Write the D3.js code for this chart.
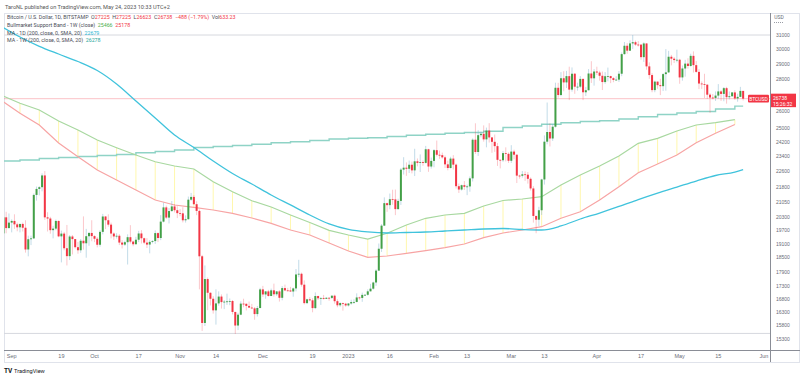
<!DOCTYPE html>
<html>
<head>
<meta charset="utf-8">
<script src="https://cdn.jsdelivr.net/npm/d3@7"></script>
<style>
  html, body { margin: 0; padding: 0; background: #fff; }
  svg { display: block; font-family: Roboto, "Liberation Sans", sans-serif; }
</style>
</head>
<body>
<svg id="chart" width="800" height="378"></svg>
<script>
// ---- data (BTCUSD daily, Bitstamp) ----
const firstDay = "2022-08-28";
// [open, high, low, close], one row per day from firstDay
const ohlc = [
    [20040,20140,19530,19555],[19555,20380,19555,20297],[20297,20560,19560,19796],[19796,20480,19780,20049],
    // Sep
    [20049,20200,19600,20127],[20127,20440,19760,19969],[19969,20050,19650,19832],[19832,20000,19600,19987],
    [19987,20050,19640,19812],[19812,20160,18700,18837],[18837,19450,18540,19290],[19290,19450,19030,19329],
    [19329,21450,19300,21381],[21381,21800,21100,21680],[21680,21820,21360,21769],[21769,22480,21560,22371],
    [22371,22600,20180,20297],[20297,20540,19640,20241],[20241,20320,19540,19701],[19701,19900,19330,19772],
    [19772,20190,19700,20127],[20127,20150,19380,19419],[19419,19680,18280,19544],[19544,19620,18800,18891],
    [18891,19940,18150,18547],[18547,19480,18380,19413],[19413,19480,18620,19297],[19297,19300,18880,18937],
    [18937,19170,18650,18802],[18802,19300,18690,19222],[19222,20340,18830,19110],[19110,19760,18480,19426],
    [19426,19620,19000,19573],[19573,20160,19200,19431],
    // Oct
    [19431,19470,19160,19312],[19312,19390,18930,19044],[19044,19700,18960,19623],[19623,20460,19510,20336],
    [20336,20360,19750,20160],[20160,20440,19860,19955],[19955,20050,19330,19546],[19546,19600,19260,19416],
    [19416,19560,19320,19446],[19446,19520,19030,19141],[19141,19250,18880,19051],[19051,19220,18990,19157],
    [19157,19510,18190,19382],[19382,19930,19100,19185],[19185,19220,18980,19067],[19067,19400,19060,19268],
    [19268,19670,19160,19550],[19550,19700,19100,19334],[19334,19360,19070,19139],[19139,19340,18900,19053],
    [19053,19250,18670,19172],[19172,19250,19110,19208],[19208,19690,19080,19567],[19567,19600,19160,19345],
    [19345,20400,19250,20095],[20095,21000,20060,20771],[20771,20860,20220,20285],[20285,20740,20010,20595],
    [20595,21080,20560,20818],[20818,20930,20530,20635],[20635,20830,20260,20495],
    // Nov
    [20495,20690,20350,20485],[20485,20780,20060,20159],[20159,20390,20050,20209],[20209,21300,20190,21147],
    [21147,21480,21090,21282],[21282,21370,20900,20926],[20926,21070,20400,20602],[20602,20670,17170,18541],
    [18541,18600,15590,15880],[15880,18150,15770,17586],[17586,17650,16360,17034],[17034,17050,16540,16799],
    [16799,16900,16230,16353],[16353,17170,15820,16619],[16619,17090,16530,16885],[16885,16970,16420,16669],
    [16669,16750,16400,16687],[16687,17000,16560,16698],[16698,16810,16550,16712],[16712,16750,16200,16292],
    [16292,16300,15480,15787],[15787,16260,15620,16189],[16189,16700,16170,16610],[16610,16800,16470,16604],
    [16604,16610,16350,16522],[16522,16690,16440,16458],[16458,16600,16400,16428],[16428,16480,16000,16212],
    [16212,16520,16120,16442],[16442,17230,16430,17168],
    // Dec
    [17168,17310,16870,16968],[16968,17100,16800,17089],[17089,17150,16880,16908],[16908,17200,16900,17131],
    [17131,17400,16880,16975],[16975,17100,16910,17089],[17089,17140,16690,16837],[16837,17300,16740,17221],
    [17221,17360,17100,17129],[17129,17230,17090,17127],[17127,17270,17070,17085],[17085,17240,16880,17208],
    [17208,18000,17090,17774],[17774,18390,17660,17803],[17803,17850,17280,17357],[17357,17530,16580,16630],
    [16630,16800,16590,16777],[16777,16860,16700,16738],[16738,16820,16280,16439],[16439,17050,16400,16906],
    [16906,16920,16750,16818],[16818,16860,16560,16830],[16830,16950,16770,16796],[16796,16860,16790,16837],
    [16837,16860,16720,16832],[16832,16930,16790,16919],[16919,16960,16610,16705],[16705,16780,16470,16547],
    [16547,16660,16490,16633],[16633,16650,16340,16607],[16607,16640,16490,16540],
    // Jan
    [16540,16630,16500,16616],[16616,16760,16570,16672],[16672,16780,16600,16675],[16675,17010,16660,16850],
    [16850,16880,16760,16831],[16831,17040,16680,16951],[16951,16980,16910,16955],[16955,17170,16920,17091],
    [17091,17390,17090,17197],[17197,17480,17160,17446],[17446,17990,17310,17934],[17934,19100,17920,18869],
    [18869,19980,18730,19909],[19909,21260,19890,20976],[20976,21000,20560,20880],[20880,21450,20680,21170],
    [21170,21640,20900,21161],[21161,21650,20400,20688],[20688,21190,20660,21086],[21086,22760,20890,22676],
    [22676,23340,22420,22777],[22777,23060,22350,22720],[22720,23160,22500,22934],[22934,23100,22480,22636],
    [22636,23800,22340,23117],[23117,23270,22850,23032],[23032,23490,22550,23078],[23078,23170,22880,23031],
    [23031,23960,23000,23774],[23774,23800,22560,22840],[22840,23320,22730,23139],
    // Feb
    [23139,23780,22800,23723],[23723,24260,23380,23471],[23471,23700,23250,23449],[23449,23590,23260,23331],
    [23331,23430,22760,22955],[22955,23150,22640,22760],[22760,23360,22740,23264],[23264,23450,22680,22939],
    [22939,23000,21700,21819],[21819,21950,21480,21651],[21651,21900,21600,21870],[21870,22080,21630,21788],
    [21788,21900,21370,21808],[21808,22320,21540,22220],[22220,24380,22060,24307],[24307,25250,23520,23623],
    [23623,24850,23410,24565],[24565,24770,24440,24641],[24641,25130,24200,24327],[24327,25000,23880,24829],
    [24829,25260,24150,24436],[24436,24460,23580,24188],[24188,24600,23630,23947],[23947,24120,22870,23198],
    [23198,23210,22740,23175],[23175,23680,23090,23561],[23561,23880,23110,23522],[23522,23600,23030,23147],
    // Mar
    [23147,24000,23030,23646],[23646,23750,23230,23475],[23475,23480,21980,22362],[22362,22410,22200,22354],
    [22354,22600,22260,22430],[22430,22580,22090,22410],[22410,22550,21950,22197],[22197,22270,21600,21705],
    [21705,21820,20050,20363],[20363,20370,19560,20187],[20187,20800,19890,20633],[20633,22200,20410,22163],
    [22163,24550,21900,24197],[24197,26500,24050,24746],[24746,25250,23930,24376],[24376,25210,24240,25052],
    [25052,27750,25000,27423],[27423,27740,26800,26966],[26966,28440,26890,28038],[28038,28500,27200,27767],
    [27767,28520,27410,28175],[28175,28800,26650,27307],[27307,28750,27180,28333],[28333,28380,27040,27493],
    [27493,27750,27240,27494],[27494,28180,27400,27994],[27994,28020,26650,27139],[27139,27480,26900,27268],
    [27268,28640,27250,28348],[28348,29170,27730,28033],[28033,28640,27560,28478],
    // Apr
    [28478,28800,28250,28411],[28411,28530,27880,28199],[28199,28480,27280,27790],[27790,28440,27680,28168],
    [28168,28740,27840,28177],[28177,28200,27720,28044],[28044,28110,27780,27925],[27925,28170,27880,27947],
    [27947,28510,27800,28333],[28333,29770,28170,29653],[29653,30500,29620,30235],[30235,30420,29680,29892],
    [29892,30620,29870,30400],[30400,31000,30010,30485],[30485,30600,30230,30318],[30318,30560,30180,30315],
    [30315,30330,29270,29445],[29445,30480,29120,30397],[30397,30410,28600,28822],[28822,29090,28000,28245],
    [28245,28370,27140,27276],[27276,27880,27140,27818],[27818,27820,27360,27591],[27591,28000,26960,27525],
    [27525,28370,27220,28307],[28307,30000,27240,28422],[28422,29880,28380,29473],[29473,29600,28890,29340],
    [29340,29450,29050,29248],[29248,29960,29090,29268],
    // May
    [29268,29330,27680,28091],[28091,28880,27880,28680],[28680,29260,28140,29006],[29006,29370,28670,28847],
    [28847,29680,28800,29534],[29534,29840,28410,28904],[28904,29180,28400,28454],[28454,28640,27340,27695],
    [27695,27830,27350,27654],[27654,28330,26780,27621],[27621,27640,26720,26987],[26987,27080,25870,26808],
    [26808,27030,26700,26784],[26784,27190,26600,26930],[26930,27660,26730,27192],[27192,27270,26600,27036],
    [27036,27470,26580,27398],[27398,27480,26430,26832],[26832,27190,26690,26890],[26890,27150,26850,27129],
    [27129,27270,26660,26753],[26753,27050,26550,26851],[26851,27480,26830,27225],[27225,27225,26623,26738]
];

// weekly indicator points (week closes, Sundays)
const weeks = ["2022-08-28","2022-09-04","2022-09-11","2022-09-18","2022-09-25","2022-10-02","2022-10-09",
    "2022-10-16","2022-10-23","2022-10-30","2022-11-06","2022-11-13","2022-11-20","2022-11-27","2022-12-04",
    "2022-12-11","2022-12-18","2022-12-25","2023-01-01","2023-01-08","2023-01-15","2023-01-22","2023-01-29",
    "2023-02-05","2023-02-12","2023-02-19","2023-02-26","2023-03-05","2023-03-12","2023-03-19","2023-03-26",
    "2023-04-02","2023-04-09","2023-04-16","2023-04-23","2023-04-30","2023-05-07","2023-05-14","2023-05-21"];
// Bullmarket Support Band: 21W EMA (green) and 20W SMA (red)
const bandEma = [26967,26452,26043,25386,24861,24290,23860,23459,23096,22867,22708,22048,21542,21096,20789,
    20407,20054,19694,19480,19300,19558,19938,20251,20407,20488,20838,21106,21180,21293,21880,22394,22867,
    23404,24105,24386,24804,25152,25286,25466];
const bandSma = [26656,25845,25152,24122,23366,22655,22135,21627,21130,20886,20775,20645,20488,20265,20017,
    19708,19480,19122,18770,18497,18553,18670,18783,18914,19077,19359,19571,19708,19860,20251,20564,21130,
    21793,22514,22973,23459,24139,24672,25178];
// MA 200 weekly
const ma200w = [23134,23188,23269,23323,23377,23431,23486,23585,23650,23733,23871,23927,23982,24049,24139,
    24195,24262,24347,24386,24421,24489,24563,24614,24671,24717,24786,25006,25093,25193,25286,25357,25404,
    25505,25641,25773,25863,25953,26104,26278];
// MA 200 daily (sampled on the same Sundays)
const ma200d = [31654,30856,30197,29661,29149,28546,27665,26594,25564,24574,23871,23134,22472,21931,21377,
    20889,20407,19986,19732,19618,19572,19595,19618,19663,19708,19754,19777,19732,19708,19893,20218,20501,
    20815,21154,21476,21777,22083,22368,22549];
const lastDay = "2023-05-24";
const ma200dLast = 22679;
const ma200wLast = 26278;

// horizontal levels drawn on the chart, last price
const levels = [31000, 15500];
const lastPrice = 26738;

// axis ticks
const yTicks = [31000,30000,29000,28000,27000,26000,25000,24200,23400,22600,21800,21050,20300,19700,19100,
    18500,17900,17300,16800,16300,15800,15300,14800];
const xTickDates = ["2022-09-01","2022-09-19","2022-10-01","2022-10-17","2022-11-01","2022-11-14","2022-12-01",
    "2022-12-19","2023-01-01","2023-01-16","2023-02-01","2023-02-13","2023-03-01","2023-03-13","2023-04-01",
    "2023-04-17","2023-05-01","2023-05-15","2023-06-01"];
const xTickLabels = ["Sep","19","Oct","17","Nov","14","Dec","19","2023","16","Feb","13","Mar","13","Apr","17",
    "May","15","Jun"];

// ---- setup ----
const svg = d3.select("#chart");
const plot = {left: 4, right: 770, top: 13, bottom: 350};
const parse = d3.utcParse("%Y-%m-%d");

const x = d3.scaleUtc()
    .domain([parse("2022-09-01"), parse("2023-05-15")])
    .range([11.7, 718.3]);
const y = d3.scaleLog()
    .domain([15300, 31000])
    .range([339, 35]);

const days = ohlc.map((d, i) => ({
    date: d3.utcDay.offset(parse(firstDay), i), o: d[0], h: d[1], l: d[2], c: d[3]
}));
const weekDates = weeks.map(parse);

const defs = svg.append("defs");
defs.append("clipPath").attr("id", "plotclip")
    .append("rect")
    .attr("x", plot.left).attr("y", plot.top)
    .attr("width", plot.right - plot.left).attr("height", plot.bottom - plot.top);
defs.append("clipPath").attr("id", "yaxisclip")
    .append("rect")
    .attr("x", plot.right).attr("y", plot.top)
    .attr("width", 30).attr("height", plot.bottom - plot.top);

// frame
svg.append("rect")
    .attr("x", plot.left + 0.5).attr("y", plot.top + 0.5)
    .attr("width", 799 - plot.left).attr("height", 362 - plot.top)
    .attr("fill", "none").attr("stroke", "#e0e3eb");

const g = svg.append("g").attr("clip-path", "url(#plotclip)");

// horizontal levels + last price line
g.selectAll(".level").data(levels).join("line")
    .attr("x1", plot.left).attr("x2", plot.right)
    .attr("y1", d => y(d)).attr("y2", d => y(d))
    .attr("stroke", "#d6d8de").attr("stroke-width", 1);
g.append("line")
    .attr("x1", plot.left).attr("x2", plot.right)
    .attr("y1", y(lastPrice)).attr("y2", y(lastPrice))
    .attr("stroke", "#f23645").attr("stroke-opacity", 0.3).attr("stroke-width", 1);

// band fill: thin yellow verticals at each weekly point
g.selectAll(".bandfill").data(weekDates).join("line")
    .attr("x1", d => x(d)).attr("x2", d => x(d))
    .attr("y1", (d, i) => y(bandEma[i])).attr("y2", (d, i) => y(bandSma[i]))
    .attr("stroke", "#fff176").attr("stroke-opacity", 0.6).attr("stroke-width", 1);

const weekLine = values => d3.line()
    .x((d, i) => x(weekDates[i]))
    .y(d => y(d))(values);

// MA 200W (step line)
const w200 = ma200w.map((v, i) => [weekDates[i], v]).concat([[parse(lastDay), ma200wLast]]);
g.append("path")
    .attr("d", d3.line().x(d => x(d[0])).y(d => y(d[1])).curve(d3.curveStepAfter)(w200))
    .attr("fill", "none").attr("stroke", "#8fd3c6").attr("stroke-width", 1.4);

// support band lines
g.append("path").attr("d", weekLine(bandEma))
    .attr("fill", "none").attr("stroke", "#a8d8a0").attr("stroke-width", 1.2);
g.append("path").attr("d", weekLine(bandSma))
    .attr("fill", "none").attr("stroke", "#f7a4a4").attr("stroke-width", 1.2);

// MA 200D
const d200 = ma200d.map((v, i) => [weekDates[i], v]).concat([[parse(lastDay), ma200dLast]]);
g.append("path")
    .attr("d", d3.line().x(d => x(d[0])).y(d => y(d[1])).curve(d3.curveMonotoneX)(d200))
    .attr("fill", "none").attr("stroke", "#40c3dc").attr("stroke-width", 1.3);

// candles
const bw = 2;
const candle = g.append("g").selectAll("g").data(days).join("g");
candle.append("line")
    .attr("x1", d => x(d.date)).attr("x2", d => x(d.date))
    .attr("y1", d => y(d.h)).attr("y2", d => y(d.l))
    .attr("stroke", d => d.c >= d.o ? "rgba(120,175,205,0.45)" : "rgba(242,54,69,0.28)")
    .attr("stroke-width", 1);
candle.append("rect")
    .attr("x", d => x(d.date) - bw / 2)
    .attr("width", bw)
    .attr("y", d => y(Math.max(d.o, d.c)))
    .attr("height", d => Math.max(0.8, Math.abs(y(d.o) - y(d.c))))
    .attr("fill", d => d.c >= d.o ? "#43a047" : "#f23645");

// ---- axes ----
svg.append("line").attr("x1", plot.right + 0.5).attr("x2", plot.right + 0.5)
    .attr("y1", plot.top).attr("y2", 362).attr("stroke", "#8a8d96");
svg.append("line").attr("x1", plot.left).attr("x2", 800)
    .attr("y1", plot.bottom + 0.5).attr("y2", plot.bottom + 0.5).attr("stroke", "#8a8d96");

// labels too close to the last price tag are hidden, like the original
const py = y(lastPrice);
const yAxis = svg.append("g").attr("clip-path", "url(#yaxisclip)")
    .append("g")
    .attr("transform", `translate(${plot.right + 2},0)`)
    .call(d3.axisRight(y).tickValues(yTicks.filter(v => Math.abs(y(v) - py) > 7))
        .tickFormat(d3.format("d")).tickSize(0));
yAxis.select(".domain").remove();
yAxis.selectAll("text").attr("fill", "#6a6d78").attr("font-size", 5).attr("font-family", null).attr("dx", 1);

const xAxis = svg.append("g")
    .attr("transform", `translate(0,${plot.bottom})`)
    .call(d3.axisBottom(x).tickValues(xTickDates.map(parse))
        .tickFormat((d, i) => xTickLabels[i]).tickSize(0));
xAxis.select(".domain").remove();
xAxis.selectAll(".tick").attr("transform", d => `translate(${Math.min(x(d), 764)},0)`);
xAxis.selectAll("text").attr("fill", "#6a6d78").attr("font-size", 5.5).attr("font-family", null).attr("dy", "0.9em");

// USD label
svg.append("text").attr("x", 779).attr("y", 19).attr("text-anchor", "middle")
    .attr("font-size", 5).attr("fill", "#6a6d78").text("USD");
svg.append("line").attr("x1", 774).attr("x2", 784).attr("y1", 22.5).attr("y2", 22.5)
    .attr("stroke", "#9a9da6").attr("stroke-dasharray", "1,1");

// price tags
svg.append("rect").attr("x", 748).attr("y", py - 3.8).attr("width", 21).attr("height", 7.6)
    .attr("rx", 1).attr("fill", "#f23645");
svg.append("text").attr("x", 758.5).attr("y", py + 1.9).attr("text-anchor", "middle")
    .attr("font-size", 5).attr("fill", "#fff").text("BTCUSD");
svg.append("rect").attr("x", plot.right + 1).attr("y", py - 5).attr("width", 25).attr("height", 13.5)
    .attr("fill", "#f23645");
svg.append("text").attr("x", plot.right + 3).attr("y", py + 1.8)
    .attr("font-size", 5).attr("fill", "#fff").text(d3.format("d")(lastPrice));
svg.append("text").attr("x", plot.right + 3).attr("y", py + 7.4)
    .attr("font-size", 5).attr("fill", "#fff").text("15:26:32");

// ---- header and legend ----
svg.append("text").attr("x", 5).attr("y", 8.5).attr("font-size", 5.6).attr("fill", "#555")
    .text("TaroNL published on TradingView.com, May 24, 2023 10:33 UTC+2");

const grey = "#4a4d57", red = "#f23645";
const legendRows = [
    [["Bitcoin / U.S. Dollar, 1D, BITSTAMP  O", grey], ["27225", red], ["  H", grey], ["27225", red],
        ["  L", grey], ["26623", red], ["  C", grey], ["26738", red], ["  \u2212488 (\u22121.79%)", red],
        ["  Vol", grey], ["633.23", red]],
    [["Bullmarket Support Band - 1W (close)  ", grey], ["25466", "#4caf50"], ["  ", grey], ["25178", red]],
    [["MA - 1D (200, close, 0, SMA, 20)  ", grey], ["22679", "#1fb5d4"]],
    [["MA - 1W (200, close, 0, SMA, 20)  ", grey], ["26278", "#26a69a"]]
];
const legend = svg.append("g");
legendRows.forEach((row, r) => {
    const t = legend.append("text").attr("x", 7).attr("y", 19.3 + r * 7.7)
        .attr("font-size", 5.3).attr("xml:space", "preserve");
    row.forEach(([s, c]) => t.append("tspan").attr("fill", c).text(s));
});

// footer logo
svg.append("text").attr("x", 4).attr("y", 373).attr("font-size", 6.5).attr("font-weight", "bold")
    .attr("fill", "#131722").text("TV");
svg.append("text").attr("x", 14).attr("y", 373).attr("font-size", 5.6).attr("fill", "#131722")
    .text("TradingView");
</script>
</body>
</html>
